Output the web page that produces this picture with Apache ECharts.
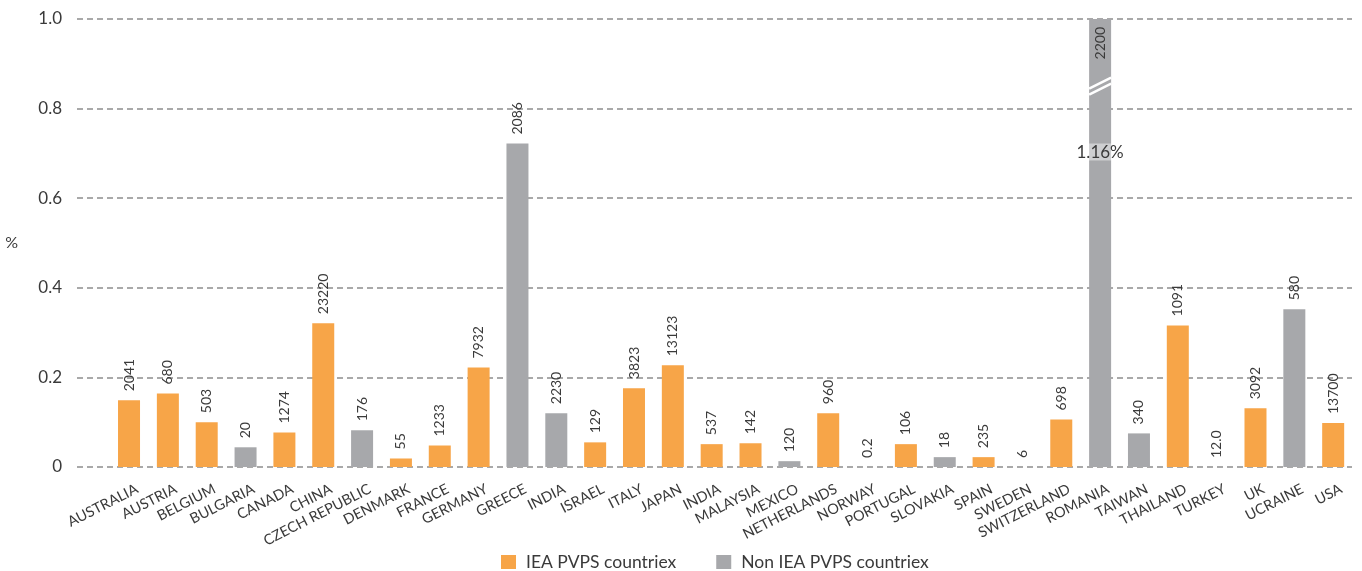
<!DOCTYPE html>
<html>
<head>
<meta charset="utf-8">
<script src="https://cdn.jsdelivr.net/npm/echarts@6/dist/echarts.min.js"></script>
<style>
    html, body { margin: 0; padding: 0; background: #fff; }
    #main { width: 1362px; height: 571px; }
</style>
</head>
<body>
<div id="main"></div>
<script>
var countries = ['AUSTRALIA', 'AUSTRIA', 'BELGIUM', 'BULGARIA', 'CANADA', 'CHINA', 'CZECH REPUBLIC', 'DENMARK',
    'FRANCE', 'GERMANY', 'GREECE', 'INDIA', 'ISRAEL', 'ITALY', 'JAPAN', 'INDIA', 'MALAYSIA', 'MEXICO',
    'NETHERLANDS', 'NORWAY', 'PORTUGAL', 'SLOVAKIA', 'SPAIN', 'SWEDEN', 'SWITZERLAND', 'ROMANIA',
    'TAIWAN', 'THAILAND', 'TURKEY', 'UK', 'UCRAINE', 'USA'];
// share of electricity demand, %
var shares = [0.149, 0.164, 0.100, 0.044, 0.077, 0.321, 0.082, 0.019, 0.048, 0.222, 0.722, 0.120, 0.055,
    0.176, 0.227, 0.051, 0.053, 0.013, 0.120, 0, 0.051, 0.022, 0.022, 0, 0.106, 1.16, 0.075, 0.316, 0,
    0.131, 0.352, 0.098];
// installed capacity shown above each bar
var capacity = ['2041', '680', '503', '20', '1274', '23220', '176', '55', '1233', '7932', '2086', '2230', '129',
    '3823', '13123', '537', '142', '120', '960', '0.2', '106', '18', '235', '6', '698', '2200', '340', '1091',
    '12.0', '3092', '580', '13700'];
// 1 = IEA PVPS member, 0 = non member
var member = [1, 1, 1, 0, 1, 1, 0, 1, 1, 1, 0, 0, 1, 1, 1, 1, 1, 0, 1, 1, 1, 0, 1, 1, 1, 0, 0, 1, 1, 1, 0, 1];
var yTicks = [0, 0.2, 0.4, 0.6, 0.8, 1.0];
var legendNames = ['IEA PVPS countriex', 'Non IEA PVPS countriex'];
var romaniaIdx = 25;
var romaniaShare = '1.16%';

var ORANGE = '#F7A548';
var GREY = '#A7A8AB';
var TXT = '#3a3a3a';
var FONT = 'Lato, "Open Sans", sans-serif';

function seriesData(flag) {
    return shares.map(function (v, i) {
        if (member[i] !== flag) return null;
        if (i === romaniaIdx) {
            return {
                value: v,
                label: { position: 'insideTop', align: 'right', distance: 8 }
            };
        }
        return v;
    });
}

var barLabel = {
    show: true,
    position: 'top',
    rotate: 90,
    align: 'left',
    verticalAlign: 'middle',
    distance: 9,
    color: TXT,
    fontSize: 14,
    fontFamily: FONT,
    formatter: function (p) { return capacity[p.dataIndex]; }
};

var option = {
    animation: false,
    textStyle: { fontFamily: FONT },
    grid: [
        { left: 77, right: 10, top: 19, bottom: 104 },
        { left: 109.6, right: 9.4, top: 19, bottom: 104 },
        { left: 117.6, right: 1.4, top: 19, bottom: 104 }
    ],
    legend: {
        left: 501,
        top: 553,
        padding: 0,
        icon: 'rect',
        itemWidth: 15,
        itemHeight: 14,
        itemGap: 40,
        data: legendNames,
        textStyle: { color: TXT, fontSize: 17.5, lineHeight: 14, fontFamily: FONT, padding: [0, 0, 0, 5] }
    },
    xAxis: [
        { type: 'value', gridIndex: 0, show: false, min: 0, max: 1 },
        {
            type: 'category', gridIndex: 1, data: countries,
            axisLine: { show: false }, axisTick: { show: false }, axisLabel: { show: false }
        },
        {
            type: 'category', gridIndex: 2, data: countries,
            axisLine: { show: false }, axisTick: { show: false },
            axisLabel: {
                interval: 0, rotate: 27, margin: 21,
                color: TXT, fontSize: 14.5, fontFamily: FONT
            }
        }
    ],
    yAxis: [
        {
            type: 'value', gridIndex: 0, min: 0, max: 1, interval: 0.2,
            name: '%', nameLocation: 'middle', nameRotate: 0, nameGap: 59,
            nameTextStyle: { color: TXT, fontSize: 16, fontFamily: FONT },
            axisLine: { show: false }, axisTick: { show: false },
            axisLabel: {
                margin: 15, color: TXT, fontSize: 17, fontFamily: FONT,
                formatter: function (v) { return v === yTicks[0] ? '0' : v.toFixed(1); }
            },
            splitLine: { lineStyle: { color: '#a9a9a9', width: 2, type: [6, 4] } }
        },
        { type: 'value', gridIndex: 1, min: 0, max: 1, show: false },
        { type: 'value', gridIndex: 2, min: 0, max: 1, show: false }
    ],
    series: [
        {
            name: legendNames[0], type: 'bar', xAxisIndex: 1, yAxisIndex: 1,
            barWidth: 22, barGap: '-100%', clip: true,
            itemStyle: { color: ORANGE },
            label: barLabel,
            data: seriesData(1)
        },
        {
            name: legendNames[1], type: 'bar', xAxisIndex: 1, yAxisIndex: 1,
            barWidth: 22, barGap: '-100%', clip: true,
            itemStyle: { color: GREY },
            label: barLabel,
            data: seriesData(0),
            markPoint: {
                symbol: 'rect', symbolSize: 1,
                itemStyle: { color: 'rgba(0,0,0,0)' },
                label: {
                    show: true, position: 'inside', formatter: romaniaShare,
                    color: TXT, fontSize: 17, fontFamily: FONT,
                    backgroundColor: 'rgba(255,255,255,0.45)'
                },
                data: [{ coord: [romaniaIdx, 0.703] }]
            }
        }
    ]
};

var myChart = echarts.init(document.getElementById('main'));
myChart.setOption(option);

// break mark on the clipped Romania bar
var c = myChart.convertToPixel({ xAxisIndex: 1, yAxisIndex: 1 }, [romaniaIdx, 0.85]);
var lines = [-3, 3].map(function (dy) {
    return {
        type: 'line',
        shape: { x1: c[0] - 11, y1: c[1] + dy + 5.5, x2: c[0] + 11, y2: c[1] + dy - 5.5 },
        style: { stroke: '#fff', lineWidth: 2.5 },
        z: 100
    };
});
myChart.setOption({ graphic: lines });
</script>
</body>
</html>
